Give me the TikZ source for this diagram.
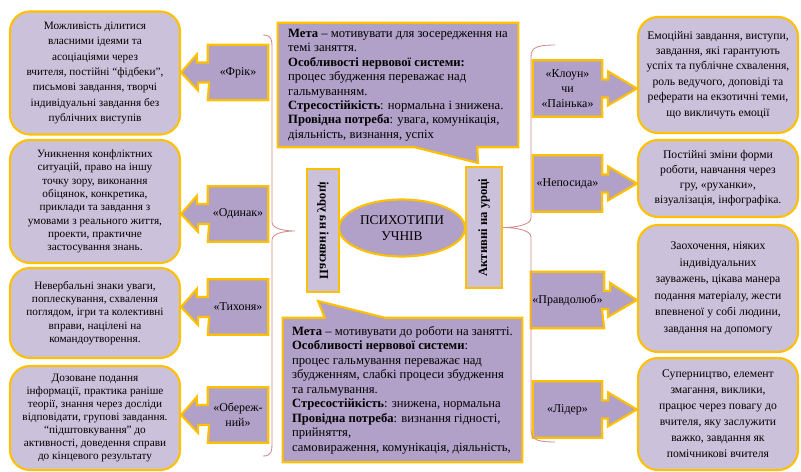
\documentclass[tikz,border=0pt]{standalone}
\usepackage{fontspec}
\setmainfont{Liberation Serif}
\usepackage{graphicx}
\usetikzlibrary{positioning,calc,shapes.geometric,backgrounds}

\definecolor{gold}{HTML}{FFC000}
\definecolor{lavlight}{HTML}{CCC1DA}
\definecolor{lavdark}{HTML}{B1A0C7}
\definecolor{braceline}{HTML}{D08C8C}

% arrow callouts round the type tags
\newcommand{\leftcallout}[2]{%
  \draw[callout] (#1.north east) -- (#1.north west) -- ($(#1.west)+(0,-10)$) -- ++(-11,0) -- ++(0,-8)
    -- (#2.east |- #1.west) -- ++(17,18) -- ++(0,-8) -- ++(11,0) -- (#1.south west) -- (#1.south east) -- cycle;}
\newcommand{\rightcallout}[2]{%
  \draw[callout] (#1.north west) -- (#1.north east) -- ($(#1.east)+(0,-9)$) -- ++(6,0) -- ++(0,-8)
    -- (#2.west |- #1.east) -- ++(-29,17) -- ++(0,-8) -- ++(-6,0) -- (#1.south east) -- (#1.south west) -- cycle;}

\begin{document}
\begin{tikzpicture}[
    x=0.025cm, y=-0.025cm,
    sidebox/.style={draw=gold, line width=1.5pt, fill=lavlight, rounded corners=0.5cm, align=center, inner sep=3pt, font=\fontsize{8.3}{#1}\selectfont},
    sidebox/.default=11,
    leftbox/.style={sidebox=#1, font=\fontsize{8}{#1}\selectfont},
    tag/.style={minimum width=1.5cm, minimum height=1.375cm, align=center, inner sep=1pt, font=\fontsize{8.5}{10.5}\selectfont},
    rtag/.style={tag, minimum width=1.725cm, minimum height=1.4cm},
    callout/.style={draw=gold, line width=1.5pt, fill=lavdark, line join=miter},
    infobox/.style={align=left, inner sep=2pt, font=\fontsize{9}{10.3}\selectfont},
    vlabel/.style={draw=gold, line width=1.5pt, fill=lavlight, inner sep=0pt, font=\fontsize{9}{11}\selectfont\bfseries},
    brace line/.style={draw=braceline, line width=0.6pt},
  ]
  \useasboundingbox (0,0) rectangle (801,472);

  % left column
  \node[leftbox=11, minimum width=4.25cm, minimum height=3.075cm] (frikbox) at (95,73)
    {Можливість ділитися\\власними ідеями та\\асоціаціями через\\вчителя, постійні “фідбеки”,\\письмові завдання, творчі\\індивідуальні завдання без\\публічних виступів};
  \node[leftbox=9.5, minimum width=4.25cm, minimum height=3.075cm] (odynakbox) at (95,201.5)
    {Уникнення конфліктних\\ситуацій, право на іншу\\точку зору, виконання\\обіцянок, конкретика,\\приклади та завдання з\\умовами з реального життя,\\проекти, практичне\\застосування знань.};
  \node[leftbox=9.5, minimum width=4.25cm, minimum height=2.25cm] (tykhoniabox) at (95,313)
    {Невербальні знаки уваги,\\поплескування, схвалення\\поглядом, ігри та колективні\\вправи, націлені на\\командоутворення.};
  \node[leftbox=9.3, minimum width=4.25cm, minimum height=2.6cm] (oberezhbox) at (95,418)
    {Дозоване подання\\інформації, практика раніше\\теорії, знання через досліди\\відповідати, групові завдання.\\“підштовкування” до\\активності, доведення справи\\до кінцевого результату};

  \node[tag] (frik) at (238,72.5) {«Фрік»};
  \node[tag] (odynak) at (238,214) {«Одинак»};
  \node[tag] (tykhonia) at (238,307) {«Тихоня»};
  \node[tag] (oberezh) at (238,415) {«Обереж-\\ний»};

  % right column
  \node[sidebox=11, minimum width=4cm, minimum height=2.9cm] (klounbox) at (718,75)
    {Емоційні завдання, виступи,\\завдання, які гарантують\\успіх та публічне схвалення,\\роль ведучого, доповіді та\\реферати на екзотичні теми,\\що викличуть емоції};
  \node[sidebox=10.7, minimum width=4cm, minimum height=1.925cm] (neposydabox) at (718,178.5)
    {Постійні зміни форми\\роботи, навчання через\\гру, «руханки»,\\візуалізація, інфографіка.};
  \node[sidebox=11.8, minimum width=4cm, minimum height=3.175cm] (pravdoliubbox) at (718,288.5)
    {Заохочення, ніяких\\індивідуальних\\зауважень, цікава манера\\подання матеріалу, жести\\впевненої у собі людини,\\завдання на допомогу};
  \node[sidebox=11.4, minimum width=4cm, minimum height=2.8cm] (liderbox) at (718,414)
    {Суперництво,  елемент\\змагання,  виклики,\\працює через повагу до\\вчителя, яку заслужити\\важко, завдання як\\помічникові вчителя};

  \node[rtag] (kloun) at (567.5,88.5) {«Клоун»\\чи\\«Паінька»};
  \node[rtag] (neposyda) at (567.5,183.5) {«Непосида»};
  \node[rtag] (pravdoliub) at (567.5,300) {«Правдолюб»};
  \node[rtag] (lider) at (567.5,409.5) {«Лідер»};

  % centre
  \node[ellipse, draw=gold, line width=1.5pt, fill=lavdark, minimum width=3.15cm, minimum height=1.425cm,
    inner sep=0pt, align=center, font=\fontsize{9.5}{11}\selectfont] (types) at (402,228) {ПСИХОТИПИ\\УЧНІВ};
  \node[vlabel, minimum width=0.8cm, minimum height=3.075cm] (passive) at (323,230.5)
    {\rotatebox{-90}{\reflectbox{Пасивні на уроці}}};
  \node[vlabel, minimum width=0.9cm, minimum height=3.025cm] (active) at (484,227.5)
    {\rotatebox{90}{Активні на уроці}};

  \node[infobox, minimum width=6cm, minimum height=3.1cm] (activeinfo) at (398,85)
    {\textbf{Мета} – мотивувати для зосередження на\\темі заняття.\\\textbf{Особливості нервової системи:}\\процес збудження переважає над\\гальмуванням.\\\textbf{Стресостійкість}: нормальна і знижена.\\\textbf{Провідна потреба}: увага, комунікація,\\діяльність, визнання, успіх};
  \node[infobox, minimum width=5.975cm, minimum height=3.6cm] (passiveinfo) at (402.5,390)
    {\textbf{Мета} – мотивувати до роботи на занятті.\\\textbf{Особливості нервової системи}:\\процес гальмування переважає над\\збудженням, слабкі процеси збудження\\та гальмування.\\\textbf{Стресостійкість}: знижена, нормальна\\\textbf{Провідна потреба}: визнання гідності,\\прийняття,\\самовираження,  комунікація, діяльність,};

  \coordinate (activetip) at (478,163);
  \coordinate (passivetip) at (318,301);
  \coordinate (lbtop) at (263,35);
  \coordinate (lbtip) at (295,231);
  \coordinate (lbbot) at (263,456);
  \coordinate (rbtop) at (555,45);
  \coordinate (rbbot) at (555,442);

  \begin{scope}[on background layer]
    \leftcallout{frik}{frikbox}
    \leftcallout{odynak}{odynakbox}
    \leftcallout{tykhonia}{tykhoniabox}
    \leftcallout{oberezh}{oberezhbox}
    \rightcallout{kloun}{klounbox}
    \rightcallout{neposyda}{neposydabox}
    \rightcallout{pravdoliub}{pravdoliubbox}
    \rightcallout{lider}{liderbox}

    \draw[callout] (activeinfo.north west) -- (activeinfo.north east) -- (activeinfo.south east)
      -- ($(activeinfo.south east)+(-41,0)$) -- (activetip) -- ($(activeinfo.south west)+(137,0)$)
      -- (activeinfo.south west) -- cycle;
    \draw[callout] (passiveinfo.south west) -- (passiveinfo.north west)
      -- ($(passiveinfo.north west)+(42,0)$) -- (passivetip) -- ($(passiveinfo.north west)+(102,0)$)
      -- (passiveinfo.north east) -- (passiveinfo.south east) -- cycle;

    % braces
    \draw[brace line] (lbtop) .. controls (272,35) and (272,40) .. (272,50) -- (272,222)
      .. controls (272,229) and (285,231) .. (lbtip) .. controls (285,231) and (272,233) .. (272,240)
      -- (272,441) .. controls (272,451) and (272,456) .. (lbbot);
    \draw[brace line] (rbtop) .. controls (531,45) and (531,50) .. (531,60) -- (531,218)
      .. controls (531,225) and (515,227.5) .. (active.east) .. controls (515,227.5) and (531,230) .. (531,237)
      -- (531,427) .. controls (531,437) and (531,442) .. (rbbot);
  \end{scope}
\end{tikzpicture}
\end{document}
